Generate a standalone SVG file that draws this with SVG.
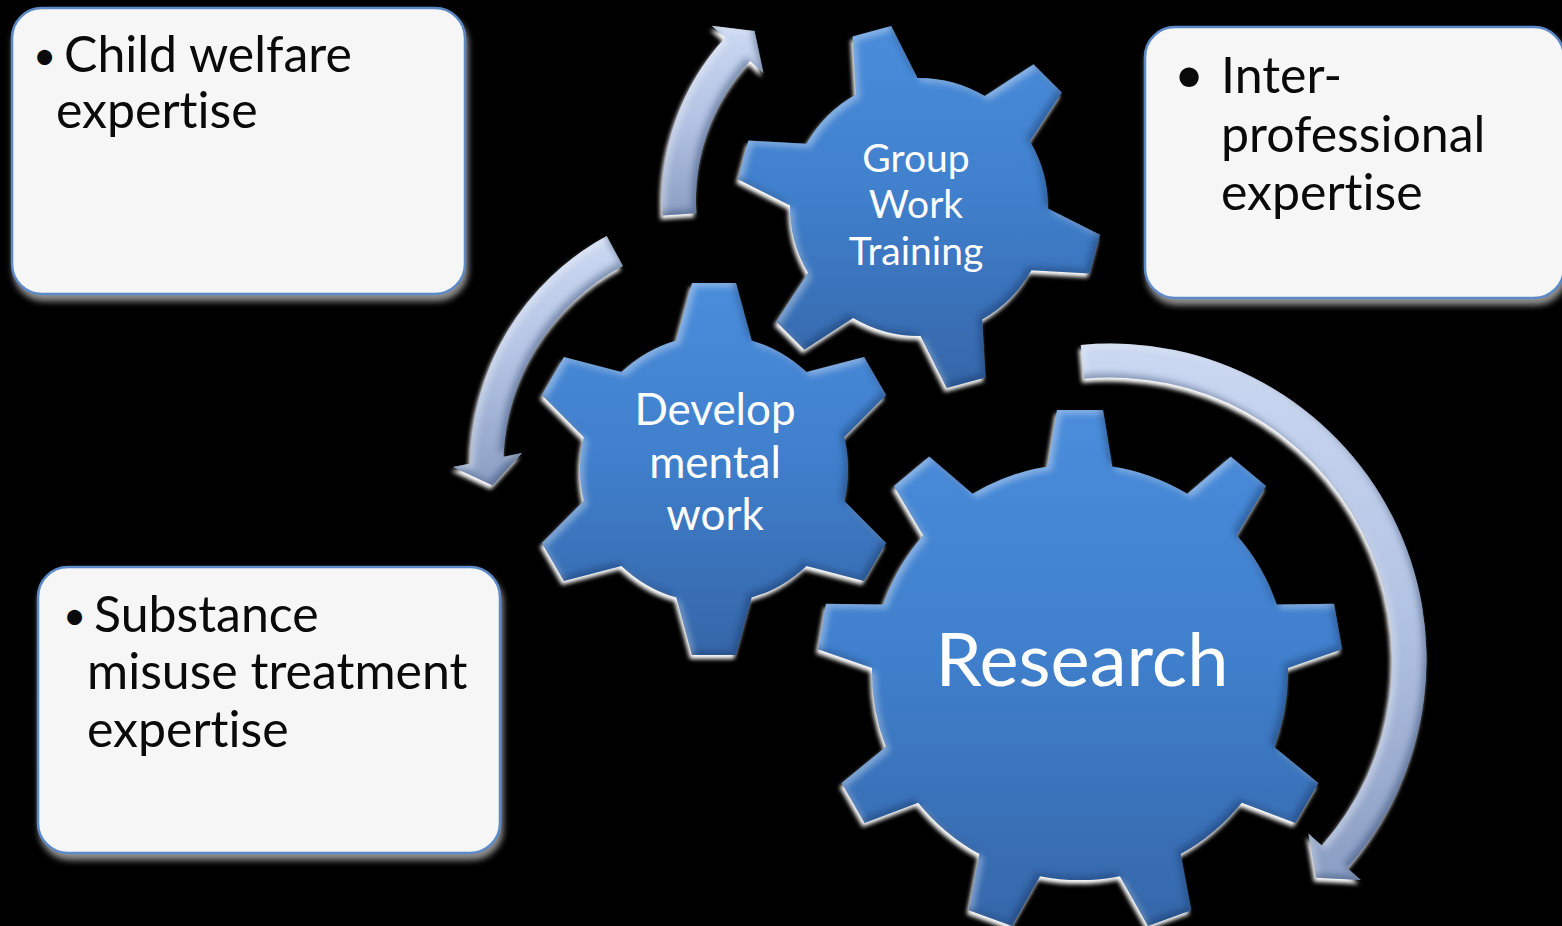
<svg xmlns="http://www.w3.org/2000/svg" width="1562" height="926" viewBox="0 0 1562 926">
<defs>
<style>
.box{fill:#f6f6f6;stroke:#5b8ac8;stroke-width:2.5}
.btxt{font-family:Lato,"Open Sans","Liberation Sans",sans-serif;font-size:50px;fill:#0a0a0a;font-variant-ligatures:none}
.gtxt{font-family:Lato,"Open Sans","Liberation Sans",sans-serif;fill:#ffffff;text-anchor:middle;font-variant-ligatures:none}
.gear{fill:url(#gearFill)}
.arrow{fill:url(#arrowFill)}
</style>
<linearGradient id="gearFill" x1="0" y1="0" x2="0" y2="1">
<stop offset="0" stop-color="#4b8ddb"/>
<stop offset="0.45" stop-color="#4080cd"/>
<stop offset="1" stop-color="#3566a8"/>
</linearGradient>
<linearGradient id="arrowFill" x1="0" y1="0" x2="0" y2="1">
<stop offset="0" stop-color="#cbd8f1"/>
<stop offset="0.5" stop-color="#b3c3e3"/>
<stop offset="1" stop-color="#8b9ec3"/>
</linearGradient>
<filter id="bevel" x="-15%" y="-15%" width="130%" height="130%" color-interpolation-filters="sRGB">
<feGaussianBlur in="SourceAlpha" stdDeviation="2.2" result="blur"/>
<feOffset in="blur" dx="-2" dy="4" result="gOff"/>
<feFlood flood-color="#ffffff" flood-opacity="1"/>
<feComposite in2="gOff" operator="in" result="glow"/>
<feGaussianBlur in="SourceAlpha" stdDeviation="3" result="b2"/>
<feOffset in="b2" dx="4" dy="4" result="o1"/>
<feComposite in="SourceAlpha" in2="o1" operator="out" result="edgeTL"/>
<feFlood flood-color="#ffffff" flood-opacity="0.35"/>
<feComposite in2="edgeTL" operator="in" result="hl"/>
<feOffset in="b2" dx="-4" dy="-4" result="o2"/>
<feComposite in="SourceAlpha" in2="o2" operator="out" result="edgeBR"/>
<feFlood flood-color="#0b2550" flood-opacity="0.35"/>
<feComposite in2="edgeBR" operator="in" result="sh"/>
<feMerge>
<feMergeNode in="glow"/>
<feMergeNode in="SourceGraphic"/>
<feMergeNode in="hl"/>
<feMergeNode in="sh"/>
</feMerge>
</filter>
<filter id="boxShadow" x="-10%" y="-10%" width="120%" height="125%">
<feDropShadow dx="2" dy="6" stdDeviation="3" flood-color="#a8a8a8" flood-opacity="0.85"/>
</filter>
<clipPath id="clipDev">
<circle r="134"/>
<polygon points="-40,-120 -22,-186 22,-186 40,-120" transform="rotate(0)"/>
<polygon points="-40,-120 -22,-186 22,-186 40,-120" transform="rotate(60)"/>
<polygon points="-40,-120 -22,-186 22,-186 40,-120" transform="rotate(120)"/>
<polygon points="-40,-120 -22,-186 22,-186 40,-120" transform="rotate(180)"/>
<polygon points="-40,-120 -22,-186 22,-186 40,-120" transform="rotate(240)"/>
<polygon points="-40,-120 -22,-186 22,-186 40,-120" transform="rotate(300)"/>
</clipPath>
<clipPath id="clipGrp">
<circle r="129"/>
<polygon points="-34,-115 -20,-182 20,-182 34,-115" transform="rotate(-15)"/>
<polygon points="-34,-115 -20,-182 20,-182 34,-115" transform="rotate(45)"/>
<polygon points="-34,-115 -20,-182 20,-182 34,-115" transform="rotate(105)"/>
<polygon points="-34,-115 -20,-182 20,-182 34,-115" transform="rotate(165)"/>
<polygon points="-34,-115 -20,-182 20,-182 34,-115" transform="rotate(225)"/>
<polygon points="-34,-115 -20,-182 20,-182 34,-115" transform="rotate(285)"/>
</clipPath>
<clipPath id="clipRes">
<circle r="208"/>
<polygon points="-34,-195 -23,-262 23,-262 34,-195" transform="rotate(0)"/>
<polygon points="-34,-195 -23,-262 23,-262 34,-195" transform="rotate(40)"/>
<polygon points="-34,-195 -23,-262 23,-262 34,-195" transform="rotate(80)"/>
<polygon points="-34,-195 -23,-262 23,-262 34,-195" transform="rotate(120)"/>
<polygon points="-34,-195 -23,-262 23,-262 34,-195" transform="rotate(160)"/>
<polygon points="-34,-195 -23,-262 23,-262 34,-195" transform="rotate(200)"/>
<polygon points="-34,-195 -23,-262 23,-262 34,-195" transform="rotate(240)"/>
<polygon points="-34,-195 -23,-262 23,-262 34,-195" transform="rotate(280)"/>
<polygon points="-34,-195 -23,-262 23,-262 34,-195" transform="rotate(320)"/>
</clipPath>
</defs>
<rect width="1562" height="926" fill="#000000"/>

<g id="box-child-welfare">
<rect class="box" x="12" y="8" width="453" height="286" rx="30" filter="url(#boxShadow)"/>
<text class="btxt"><tspan x="33" y="70" font-size="40">•</tspan><tspan x="64" y="72">Child welfare</tspan><tspan x="56" y="128">expertise</tspan></text>
</g>

<g id="box-interprofessional">
<rect class="box" x="1145" y="27" width="419" height="271" rx="30" filter="url(#boxShadow)"/>
<text class="btxt"><tspan x="1174" y="93" font-size="52">•</tspan><tspan x="1221" y="93">Inter-</tspan><tspan x="1221" y="152">professional</tspan><tspan x="1221" y="210">expertise</tspan></text>
</g>

<g id="box-substance">
<rect class="box" x="38" y="567" width="462" height="286" rx="30" filter="url(#boxShadow)"/>
<text class="btxt"><tspan x="63" y="630" font-size="40">•</tspan><tspan x="94" y="632">Substance</tspan><tspan x="87" y="689">misuse treatment</tspan><tspan x="87" y="747">expertise</tspan></text>
</g>

<g id="connectors">
<path id="arrow-top" class="arrow" filter="url(#bevel)" d="M662.5,215.4 A240,240 0 0 1 725.0,37.7 L711.8,25.7 L754.5,30.9 L763.4,73.0 L750.2,61.0 A206,206 0 0 0 696.4,213.3 Z"/>
<path id="arrow-left" class="arrow" filter="url(#bevel)" d="M606.7,236.1 A260,260 0 0 0 470.5,463.4 L453,467 L492.7,485.5 L522,453 L503.5,456.7 A226,226 0 0 1 622.9,266.0 Z"/>
<path id="arrow-right" class="arrow" filter="url(#bevel)" d="M1080.8,345.0 A315.5,315.5 0 0 1 1347.3,868.1 L1360.8,880.0 L1316.0,877.8 L1308.4,833.6 L1321.8,845.5 A281.5,281.5 0 0 0 1084.0,378.8 Z"/>
</g>

<g id="gear-group-work">
<g transform="translate(919,207)" filter="url(#bevel)">
<rect class="gear" x="-185" y="-185" width="370" height="370" clip-path="url(#clipGrp)"/>
</g>
<text class="gtxt" font-size="39"><tspan x="916" y="172">Group</tspan><tspan x="916" y="218">Work</tspan><tspan x="916" y="265">Training</tspan></text>
</g>

<g id="gear-developmental">
<g transform="translate(714,469)" filter="url(#bevel)">
<rect class="gear" x="-190" y="-190" width="380" height="380" clip-path="url(#clipDev)"/>
</g>
<text class="gtxt" font-size="44"><tspan x="715" y="425">Develop</tspan><tspan x="715" y="478">mental</tspan><tspan x="715" y="530">work</tspan></text>
</g>

<g id="gear-research">
<g transform="translate(1080,672)" filter="url(#bevel)">
<rect class="gear" x="-266" y="-266" width="532" height="532" clip-path="url(#clipRes)"/>
</g>
<text class="gtxt" font-size="74" x="1082" y="686">Research</text>
</g>
</svg>
